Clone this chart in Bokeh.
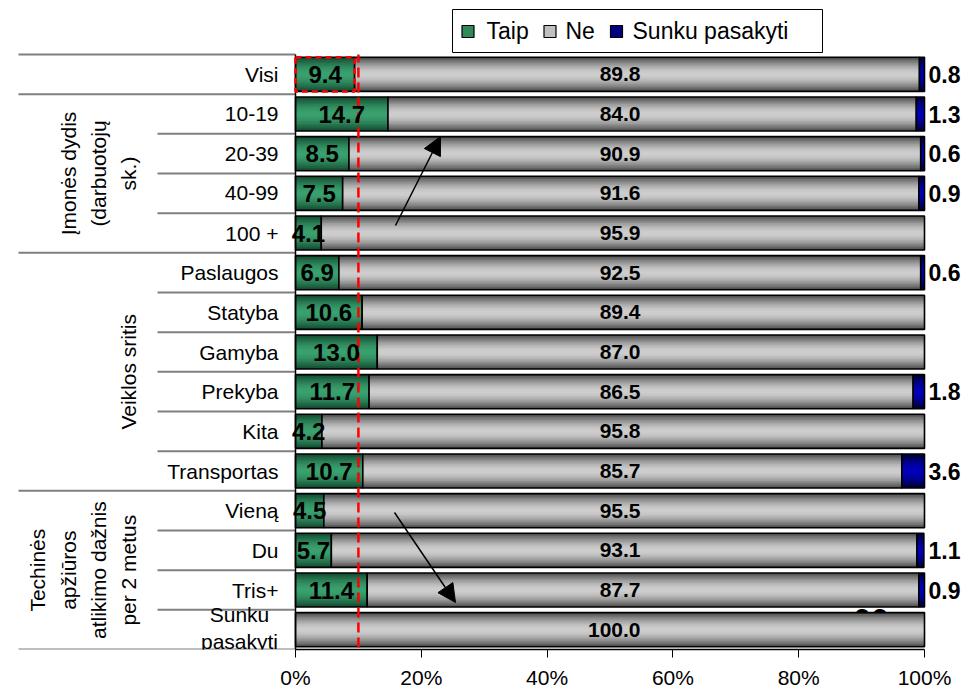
import numpy as np
from bokeh.plotting import figure
from bokeh.models import Arrow, NormalHead, FixedTicker, ColumnDataSource
from bokeh.core.properties import value
from bokeh.embed import file_html
from bokeh.resources import INLINE

# ---------------- data ----------------
categories = ["Visi", "10-19", "20-39", "40-99", "100 +",
              "Paslaugos", "Statyba", "Gamyba", "Prekyba", "Kita", "Transportas",
              "Vieną", "Du", "Tris+", "Sunku\npasakyti"]
taip = [9.4, 14.7, 8.5, 7.5, 4.1, 6.9, 10.6, 13.0, 11.7, 4.2, 10.7, 4.5, 5.7, 11.4, 0.0]
ne = [89.8, 84.0, 90.9, 91.6, 95.9, 92.5, 89.4, 87.0, 86.5, 95.8, 85.7, 95.5, 93.1, 87.7, 100.0]
sunku = [0.8, 1.3, 0.6, 0.9, 0.0, 0.6, 0.0, 0.0, 1.8, 0.0, 3.6, 0.0, 1.1, 0.9, 0.0]
series_names = ["Taip", "Ne", "Sunku pasakyti"]
group_labels = [[], ["Įmonės dydis", "(darbuotojų", "sk.)"], ["Veiklos sritis"],
                ["Techinės", "apžiūros", "atlikimo dažnis", "per 2 metus"]]
group_rows = [(0, 0), (1, 4), (5, 10), (11, 14)]
x_ticks = [0, 20, 40, 60, 80, 100]
x_tick_labels = ["0%", "20%", "40%", "60%", "80%", "100%"]
threshold = 10

# ---------------- layout helpers (page px -> data) ----------------
N = len(categories)
PX0, PXS = 295.0, 6.29          # page x of 0 %, px per percent
PY_TOP, ROW = 54.0, 595.0 / N   # page y of top of plot, px per row
W, H, PY_BOT = 980, 691, 649


def dx(px):
    return (px - PX0) / PXS


def dy(py):
    return (N - 0.5) - (py - PY_TOP) / ROW


FONT = "Liberation Sans"
BAR_H = 0.86
ypos = (N - 1 - np.arange(N)).astype(float)
taip_a = np.array(taip)
ne_a = np.array(ne)
sunku_a = np.array(sunku)
l0 = np.zeros(N)
r0 = taip_a
r1 = taip_a + ne_a
r2 = r1 + sunku_a

p = figure(width=W, height=H, x_range=(dx(0), dx(W)), y_range=(dy(PY_BOT), dy(0)),
           output_backend="svg", toolbar_location=None, y_axis_location=None,
           min_border_left=0, min_border_right=0, min_border_top=0,
           min_border_bottom=H - PY_BOT)
p.xgrid.visible = False
p.ygrid.visible = False
p.outline_line_color = None
p.background_fill_color = "white"

# hidden label remnant behind the last bars
p.text(x=[dx(870.5)], y=[dy(619)], text=["00"], text_font=value(FONT), text_font_style="bold",
       text_font_size="32px", text_align="center", text_baseline="middle", text_color="black")


def hex2rgb(h):
    h = h.lstrip("#")
    return np.array([int(h[i:i + 2], 16) for i in (0, 2, 4)], dtype=float)


def grad_bars(left, right, edge, center, K=12):
    e, c = hex2rgb(edge), hex2rgb(center)
    mask = (right - left) > 0
    src = ColumnDataSource(dict(y=ypos[mask], left=left[mask], right=right[mask]))
    for k in range(K):
        t = k / (K - 1)
        f = 1 - (1 - t) ** 1.6
        col = e + (c - e) * f
        colhex = "#%02x%02x%02x" % tuple(int(round(v)) for v in col)
        p.hbar(y="y", left="left", right="right", height=BAR_H * (1 - k / K), source=src,
               fill_color=colhex, line_color=None)
    p.hbar(y="y", left="left", right="right", height=BAR_H, source=src,
           fill_color=None, line_color="black", line_width=1.6)


grad_bars(l0, r0, "#124a30", "#3aa06e")
grad_bars(r0, r1, "#4e4e4e", "#cdcdcd")
grad_bars(r1, r2, "#000030", "#0000b8")

# separators in the category area
full_b = [N - 0.5] + [ypos[g[1]] - 0.5 for g in group_rows]
p.segment(x0=[dx(18)] * len(full_b), x1=[0] * len(full_b), y0=full_b, y1=full_b,
          line_color="#7f7f7f", line_width=2)
inner_b = []
for a, b in group_rows:
    for i in range(a, b):
        inner_b.append(ypos[i] - 0.5)
p.segment(x0=[dx(157)] * len(inner_b), x1=[0] * len(inner_b), y0=inner_b, y1=inner_b,
          line_color="#7f7f7f", line_width=2)
# vertical axis line
p.segment(x0=[0], x1=[0], y0=[-0.5], y1=[N - 0.5], line_color="black", line_width=1.5)

# row labels
single = [(ypos[i], c) for i, c in enumerate(categories) if "\n" not in c]
p.text(x=[dx(278)] * len(single), y=[s[0] for s in single], text=[s[1] for s in single],
       text_font=value(FONT), text_font_size="21px", text_align="right", text_baseline="middle",
       text_color="black")
for i, c in enumerate(categories):
    if "\n" in c:
        lines = c.split("\n")
        offs = [0.37, -0.31]
        p.text(x=[dx(239)] * len(lines), y=[ypos[i] + o for o in offs], text=lines,
               text_font=value(FONT), text_font_size="21px", text_align="center",
               text_baseline="middle", text_color="black")

# group labels (rotated)
for lines, (a, b) in zip(group_labels, group_rows):
    if not lines:
        continue
    yc = (ypos[a] + ypos[b]) / 2
    n = len(lines)
    xs = [dx(128 - 30.2 * (n - 1 - j)) for j in range(n)]
    p.text(x=xs, y=[yc] * n, text=lines, angle=np.pi / 2, text_font=value(FONT),
           text_font_size="21px", text_align="center", text_baseline="middle", text_color="black")

# threshold line and highlight box
p.segment(x0=[threshold], x1=[threshold], y0=[dy(662)], y1=[N - 0.5], line_color="#ff0000",
          line_width=2.5, line_dash="10 5")
p.quad(left=[0], right=[taip[0]], top=[ypos[0] + BAR_H / 2], bottom=[ypos[0] - BAR_H / 2],
       fill_color=None, line_color="#ff0000", line_width=2.5, line_dash="6 4")

# value labels
base = dict(text_font=value(FONT), text_font_style="bold", text_baseline="middle",
            text_color="black")
m = taip_a > 0
p.text(x=(taip_a / 2)[m], y=ypos[m], text=["%.1f" % v for v in taip_a[m]], text_align="center",
       text_font_size="24px", **base)
# "Ne" labels sit in one column, right-aligned at the same spot in every bar
p.text(x=[dx(640)] * N, y=ypos, text=["%.1f" % v for v in ne_a], text_align="right",
       text_font_size="21px", **base)
m = sunku_a > 0
p.text(x=[dx(928)] * int(m.sum()), y=ypos[m], text=["%.1f" % v for v in sunku_a[m]],
       text_align="left", text_font_size="23px", **base)

# arrows
head = dict(size=18, fill_color="black", line_color="black")
p.add_layout(Arrow(end=NormalHead(**head), x_start=dx(395), y_start=dy(225), x_end=dx(440),
                   y_end=dy(136), line_color="black", line_width=1.5))
p.add_layout(Arrow(end=NormalHead(**head), x_start=dx(394), y_start=dy(512), x_end=dx(455),
                   y_end=dy(602), line_color="black", line_width=1.5))

# legend (drawn)
p.quad(left=[dx(452)], right=[dx(822)], top=[dy(9)], bottom=[dy(52)], fill_color="white",
       line_color="black", line_width=1)
leg_x = [dx(467.5), dx(549.5), dx(616)]
p.scatter(x=leg_x, y=[dy(31)] * 3, marker="square", size=12,
          fill_color=["#2e8b57", "#c0c0c0", "#000080"], line_color="black", line_width=1.2)
p.text(x=[dx(486), dx(565), dx(632)], y=[dy(30)] * 3, text=series_names,
       text_font=value(FONT), text_font_size="23px", text_align="left", text_baseline="middle",
       text_color="black")

# x axis
ax = p.xaxis[0]
ax.ticker = FixedTicker(ticks=x_ticks)
ax.major_label_overrides = {t: l for t, l in zip(x_ticks, x_tick_labels)}
ax.bounds = (0, 100)
ax.axis_line_color = "black"
ax.axis_line_width = 1.5
ax.major_tick_in = 0
ax.major_tick_out = 8
ax.major_tick_line_color = "black"
ax.minor_tick_line_color = None
ax.major_label_standoff = 8
ax.major_label_text_font = FONT
ax.major_label_text_font_size = "21px"
ax.major_label_text_color = "black"

open("out.html", "w").write(file_html(p, INLINE))
